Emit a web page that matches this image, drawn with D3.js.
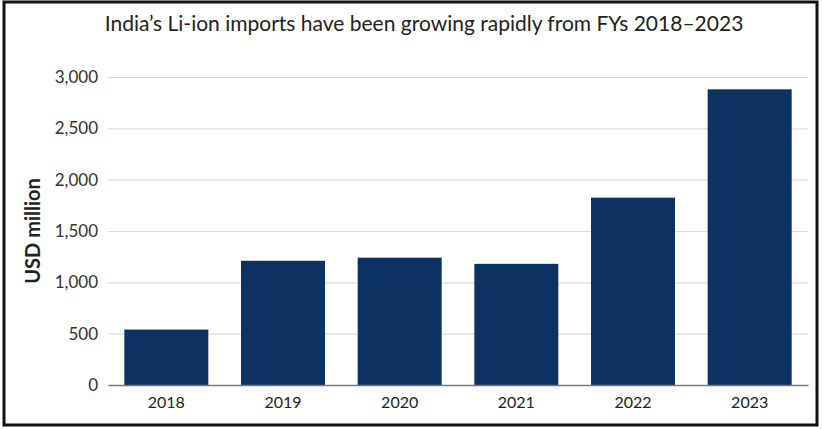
<!DOCTYPE html>
<html>
<head>
<meta charset="utf-8">
<script src="https://cdn.jsdelivr.net/npm/d3@7"></script>
<style>
  body { margin: 0; background: #fff; }
  svg { display: block; font-family: "Lato", "Noto Sans", sans-serif; }
</style>
</head>
<body>
<div id="chart"></div>
<script>
// India Li-ion imports, USD million
const years  = ['2018', '2019', '2020', '2021', '2022', '2023'];
const values = [540, 1210, 1240, 1180, 1825, 2880];
const yTicks = [0, 500, 1000, 1500, 2000, 2500, 3000];

const W = 823, H = 429;
const mLeft = 108, mRight = 808, mTop = 77, mBottom = 385;

const svg = d3.select('#chart').append('svg')
  .attr('width', W).attr('height', H);

// cadre
svg.append('rect')
  .attr('x', 4).attr('y', 2).attr('width', 813).attr('height', 423)
  .attr('fill', 'none').attr('stroke', '#111').attr('stroke-width', 3);

svg.append('text')
  .attr('x', 424).attr('y', 31)
  .attr('text-anchor', 'middle')
  .attr('font-size', 21)
  .attr('fill', '#222')
  .text('India’s Li-ion imports have been growing rapidly from FYs 2018–2023');

const x = d3.scaleBand().domain(years).range([mLeft, mRight])
  .paddingInner(0.28).paddingOuter(0.14);
const y = d3.scaleLinear().domain([0, 3000]).range([mBottom, mTop]);

// grille + ticks
svg.append('g').attr('transform', `translate(${mLeft},0)`)
  .call(d3.axisLeft(y).tickValues(yTicks).tickSize(-(mRight - mLeft)).tickPadding(10)
    .tickFormat(d3.format(',')))
  .call(g => g.select('.domain').remove())
  .call(g => g.selectAll('line').attr('stroke', '#dcdcdc').attr('stroke-width', 1.2))
  .call(g => g.selectAll('text').attr('fill', '#333').attr('font-size', 17)
    .attr('font-family', '"Lato", "Noto Sans", sans-serif'));

svg.selectAll('.bar')
  .data(years.map((yr, i) => ({ yr, v: values[i] })))
  .join('rect')
  .attr('class', 'bar')
  .attr('x', d => x(d.yr))
  .attr('y', d => y(d.v))
  .attr('width', x.bandwidth())
  .attr('height', d => mBottom - y(d.v))
  .attr('fill', '#0c3163');

// axe x
svg.append('g').attr('transform', `translate(0,${mBottom})`)
  .call(d3.axisBottom(x).tickSize(0).tickPadding(12))
  .call(g => g.select('.domain').attr('stroke', '#777').attr('stroke-width', 1.5))
  .call(g => g.selectAll('text').attr('fill', '#222').attr('font-size', 16)
    .attr('font-family', '"Lato", "Noto Sans", sans-serif'));

svg.append('text')
  .attr('transform', `translate(40,${(mTop + mBottom) / 2}) rotate(-90)`)
  .attr('text-anchor', 'middle')
  .attr('font-size', 20)
  .attr('font-weight', 'bold')
  .attr('fill', '#222')
  .text('USD million');
</script>
</body>
</html>
